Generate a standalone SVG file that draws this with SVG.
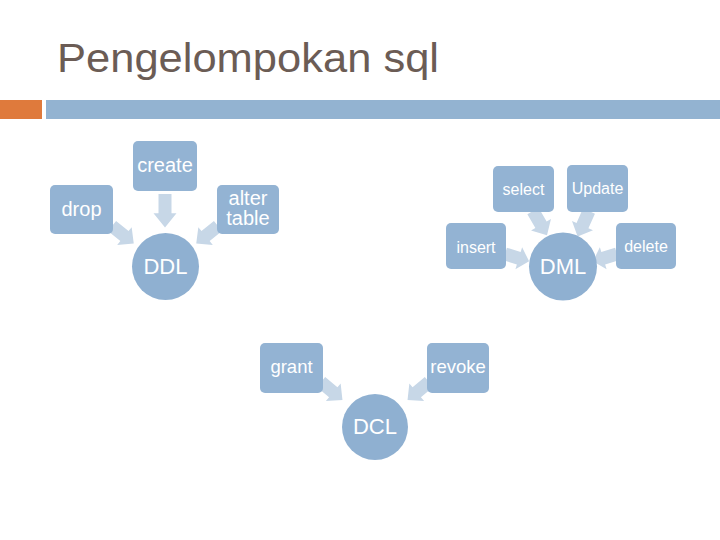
<svg xmlns="http://www.w3.org/2000/svg" xmlns:xlink="http://www.w3.org/1999/xlink" width="720" height="540" viewBox="0 0 720 540">
<style>
.box{fill:#93b3d3}
.circ{fill:#8fb0d1}
.arr{fill:#c7d7e7}
.lbl{font-family:"Liberation Sans",Arial,sans-serif;fill:#ffffff;text-anchor:middle}
.l20{font-size:20px}
.l16{font-size:16px}
.l18{font-size:18.5px}
.l22{font-size:22px}
.title{font-family:"Liberation Sans",Arial,sans-serif;font-size:41px;fill:#6b5c55}
</style>
<defs>
<path id="arrow" d="M0,-6.5 H16 V-11.5 L28,0 L16,11.5 V6.5 H0 Z"/>
</defs>
<rect width="720" height="540" fill="#ffffff"/>
<text class="title" x="57" y="72" textLength="382" lengthAdjust="spacingAndGlyphs">Pengelompokan sql</text>
<rect x="0" y="100" width="42" height="19" fill="#df7a3c"/>
<rect x="46" y="100" width="674" height="19" fill="#93b3d1"/>

<g id="connectors" class="arr">
<use xlink:href="#arrow" transform="translate(165,194) rotate(90) scale(1.2,1)"/>
<use xlink:href="#arrow" transform="translate(112,226) rotate(39)"/>
<use xlink:href="#arrow" transform="translate(218,226) rotate(141)"/>
<use xlink:href="#arrow" transform="translate(533,211) rotate(60)"/>
<use xlink:href="#arrow" transform="translate(589,211) rotate(114)"/>
<use xlink:href="#arrow" transform="translate(505,254) rotate(17) scale(0.9,1)"/>
<use xlink:href="#arrow" transform="translate(617,254) rotate(163) scale(0.9,1)"/>
<use xlink:href="#arrow" transform="translate(321,382) rotate(40)"/>
<use xlink:href="#arrow" transform="translate(429,382) rotate(140)"/>
</g>

<g id="create"><rect class="box" x="133" y="141" width="64" height="50" rx="5"/><text class="lbl l20" x="165" y="172">create</text></g>
<g id="drop"><rect class="box" x="50" y="185" width="63" height="49" rx="5"/><text class="lbl l20" x="81.5" y="216">drop</text></g>
<g id="alter"><rect class="box" x="217" y="185" width="62" height="49" rx="5"/><text class="lbl l20" x="248" y="205">alter</text><text class="lbl l20" x="248" y="225">table</text></g>
<g id="DDL"><circle class="circ" cx="165.5" cy="266.5" r="33.5"/><text class="lbl l22" x="165.5" y="274">DDL</text></g>

<g id="select"><rect class="box" x="493" y="166" width="61" height="46" rx="5"/><text class="lbl l16" x="523.5" y="195">select</text></g>
<g id="update"><rect class="box" x="567" y="165" width="61" height="47" rx="5"/><text class="lbl l16" x="597.5" y="194">Update</text></g>
<g id="insert"><rect class="box" x="446" y="223" width="60" height="46" rx="5"/><text class="lbl l16" x="476" y="252.5">insert</text></g>
<g id="delete"><rect class="box" x="616" y="223" width="60" height="46" rx="5"/><text class="lbl l16" x="646" y="252">delete</text></g>
<g id="DML"><circle class="circ" cx="563" cy="266.5" r="34"/><text class="lbl l22" x="563" y="274">DML</text></g>

<g id="grant"><rect class="box" x="260" y="343" width="63" height="50" rx="5"/><text class="lbl l18" x="291.5" y="373">grant</text></g>
<g id="revoke"><rect class="box" x="427" y="343" width="62" height="50" rx="5"/><text class="lbl l18" x="458" y="373">revoke</text></g>
<g id="DCL"><circle class="circ" cx="375" cy="427" r="33"/><text class="lbl l22" x="375" y="433.5">DCL</text></g>
</svg>
